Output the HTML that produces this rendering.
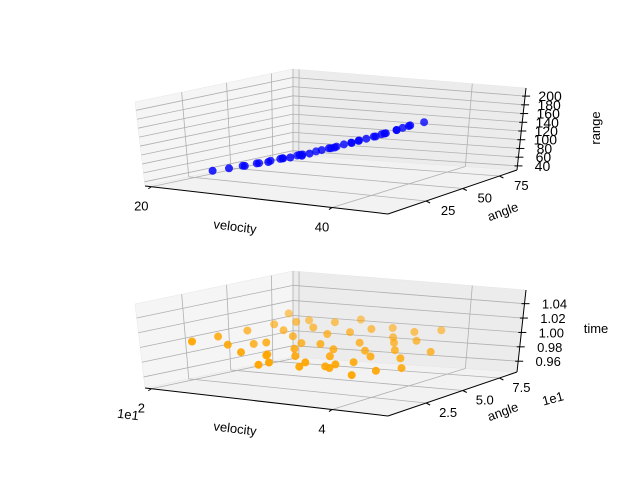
<!DOCTYPE html>
<html><head><meta charset="utf-8">
<style>
html,body{margin:0;padding:0;background:#fff;}
body{position:relative;width:640px;height:480px;overflow:hidden;}
svg{display:block;font-family:"Liberation Sans","DejaVu Sans",sans-serif;}
</style></head>
<body>
<svg id="fig" width="640" height="480" viewBox="0 0 640 480"></svg>
<script>
// ---- data (top panel: range) ----
const topVelocity = [21.5,23,24,25,25.5,26,27,27.5,28,28.5,29,29.5,30,30.5,31,31.5,32,32,33,33.5,34,34.5,35,35.5,36,36.5,37,37.5,38,38.5,39,39.5,40,40.5,41,41.5,42,42.5,43,44];
const topAngle    = [28,30,33,29,35,31,34,30,36,32,31,37,30,33,32,29,35,31,33,36,32,34,30,33,35,32,34,31,33,36,32,34,33,31,35,32,33,34,32,35];
const topRange    = [46,53,58,63,65,69,74,76,80,83,86,88,91,95,98,99,104,103,111,113,118,121,124,129,131,136,140,143,147,150,155,159,163,167,171,175,180,184,189,195];
// ---- data (bottom panel: time) ----
const botVelocity = [21,22,23,24,24.5,25,26,26.5,27,27.5,28,28.5,29,29.5,30,30.5,31,31.5,32,32.5,33,33.5,34,34.5,35,35.5,36,36.5,37,37.5,38,38.5,39,39.5,40,40.5,41,41.5,42,42.5,43,44,30,33,36,27,39,25,35,29];
const botAngle    = [20,30,42,25,50,35,22,45,32,55,27,40,21,47,37,30,52,25,42,35,57,20,45,32,27,50,40,22,55,35,25,47,30,42,52,37,22,45,32,55,27,40,17,19,21,50,18,56,24,16];
const botTime     = [1.000,1.003,1.006,0.997,1.012,0.994,0.991,1.009,1.000,1.018,0.988,1.006,0.991,1.015,1.000,0.997,1.021,0.991,1.012,1.003,1.024,0.988,1.015,1.000,0.994,1.018,1.006,0.988,1.018,1.000,0.991,1.012,0.997,1.009,1.018,1.003,0.985,1.012,0.997,1.021,0.988,1.003,0.985,0.982,0.983,1.018,0.979,1.024,0.982,0.981];
// tick values / labels
const velTicks = [20,40];
const topAngleTicks = [25,50,75];
const topZTicks = [40,60,80,100,120,140,160,180,200];
const botVelLabels = ["2","4"];
const botAngleTicks = [25,50,75];
const botAngleLabels = ["2.5","5.0","7.5"];
const botZTicks = [0.96,0.98,1.00,1.02,1.04];
const botZLabels = ["0.96","0.98","1.00","1.02","1.04"];

const NS = "http://www.w3.org/2000/svg";
const svg = document.getElementById('fig');
function el(tag, attrs, parent){
  const e = document.createElementNS(NS, tag);
  for (const k in attrs) e.setAttribute(k, attrs[k]);
  (parent||svg).appendChild(e);
  return e;
}

function panel(dy, vmin, vmax, amin, amax, zmin, zmax, opt){
  const g = el('g', {});
  
  
  const L=[145,186+dy], F=[388,214+dy], R=[517,170+dy], B=[293,155+dy];
  const vL=[-10,-84], vF=[0,-82], vR=[9,-82], vB=[0,-86];
  function bil(pL,pF,pR,pB,u,w){
    return [pL[0]*(1-u)*(1-w)+pF[0]*u*(1-w)+pR[0]*u*w+pB[0]*(1-u)*w,
            pL[1]*(1-u)*(1-w)+pF[1]*u*(1-w)+pR[1]*u*w+pB[1]*(1-u)*w];
  }
  function P(v,a,z){
    const u=(v-vmin)/(vmax-vmin), w=(a-amin)/(amax-amin), h=(z-zmin)/(zmax-zmin);
    const f=bil(L,F,R,B,u,w), vv=bil(vL,vF,vR,vB,u,w);
    return [f[0]+h*vv[0], f[1]+h*vv[1]];
  }
  const pts = a=>a.map(p=>p[0].toFixed(1)+','+p[1].toFixed(1)).join(' ');
  const floor = el('polygon',{points:pts([P(vmin,amin,zmin),P(vmax,amin,zmin),P(vmax,amax,zmin),P(vmin,amax,zmin)]),fill:'#f2f2f2',stroke:'#e6e6e6','stroke-width':0.5},g);
  
  
  const lp = el('polygon',{points:pts([P(vmin,amin,zmin),P(vmin,amin,zmax),P(vmin,amax,zmax),P(vmin,amax,zmin)]),fill:'#f5f5f5',stroke:'#e6e6e6','stroke-width':0.5},g);
  
  
  const rp = el('polygon',{points:pts([P(vmin,amax,zmin),P(vmin,amax,zmax),P(vmax,amax,zmax),P(vmax,amax,zmin)]),fill:'#ececec',stroke:'#e6e6e6','stroke-width':0.5},g);
  
  
  const gs = {stroke:'#b0b0b0','stroke-width':0.8,fill:'none'};
  function line(a,b,attrs,name){
    const l=el('line',Object.assign({x1:a[0],y1:a[1],x2:b[0],y2:b[1]},attrs),g);
    
    
    return l;
  }
  opt.zTicks.forEach(z=>{
    line(P(vmin,amin,z),P(vmin,amax,z),gs,'z-grid-left');
    line(P(vmin,amax,z),P(vmax,amax,z),gs,'z-grid-back');
  });
  opt.aGrid.forEach(a=>{
    line(P(vmin,a,zmin),P(vmin,a,zmax),gs,'angle-grid-wall');
    line(P(vmin,a,zmin),P(vmax,a,zmin),gs,'angle-grid-floor');
  });
  opt.vGrid.forEach(v=>{
    line(P(v,amax,zmin),P(v,amax,zmax),gs,'velocity-grid-wall');
    line(P(v,amin,zmin),P(v,amax,zmin),gs,'velocity-grid-floor');
  });
  line(P(vmin,amax,zmin),P(vmin,amax,zmax),gs,'back-edge');
  const ax={stroke:'#000','stroke-width':1};
  line(P(vmin,amin,zmin),P(vmax,amin,zmin),ax,'velocity-axis-line');
  line(P(vmax,amin,zmin),P(vmax,amax,zmin),ax,'angle-axis-line');
  line(P(vmax,amax,zmin),P(vmax,amax,zmax),ax,'z-axis-line');
  velTicks.forEach((v,i)=>{
    const p=P(v,amin,zmin);
    line([p[0],p[1]],[p[0]-3,p[1]+2],ax,'velocity-tick');
    const t=el('text',{x:p[0]-10,y:p[1]+24,'font-size':13,'text-anchor':'middle',fill:'#000'},g);
    
    
    t.textContent = opt.vLabels[i];
  });
  opt.aTicks.forEach((a,i)=>{
    const p=P(vmax,a,zmin);
    line([p[0],p[1]],[p[0]+4,p[1]+2],ax,'angle-tick');
    const t=el('text',{x:p[0]+22,y:p[1]+14,'font-size':13,'text-anchor':'middle',fill:'#000'},g);
    
    
    t.textContent = opt.aLabels[i];
  });
  opt.zTicks.forEach((z,i)=>{
    const p=P(vmax,amax,z);
    line([p[0]-3,p[1]],[p[0]+5,p[1]],ax,'z-tick');
    const t=el('text',{x:p[0]+opt.zLabelDx,y:p[1]+5,'font-size':opt.zFont,'text-anchor':'middle',fill:'#000'},g);
    
    
    t.textContent = opt.zLabels[i];
  });
  const order = opt.vel.map((v,i)=>i).sort((i,j)=>opt.ang[j]-opt.ang[i]);
  order.forEach(i=>{
    const p=P(opt.vel[i],opt.ang[i],opt.z[i]);
    const w=(opt.ang[i]-amin)/(amax-amin);
    const c=el('circle',{cx:p[0].toFixed(1),cy:p[1].toFixed(1),r:4,fill:opt.color,'fill-opacity':(1.15-0.9*w).toFixed(2)},g);
    
    
  });
  return g;
}

panel(0, 19.3, 46.2, -1, 87, 30.6, 218.6, {
  name:'range-subplot', color:'#0000ff',
  vel:topVelocity, ang:topAngle, z:topRange,
  zTicks:topZTicks, zLabels:topZTicks.map(String), zLabelDx:25, zFont:14,
  aTicks:topAngleTicks, aLabels:topAngleTicks.map(String), aGrid:topAngleTicks,
  vLabels:velTicks.map(String), vGrid:[20,40]
});
panel(202, 19.3, 46.2, -1, 87, 0.945, 1.059, {
  name:'time-subplot', color:'#ffa500',
  vel:botVelocity, ang:botAngle, z:botTime,
  zTicks:botZTicks, zLabels:botZLabels, zLabelDx:30, zFont:13,
  aTicks:botAngleTicks, aLabels:botAngleLabels, aGrid:botAngleTicks,
  vLabels:botVelLabels, vGrid:[20,40]
});
</script>
<svg width="640" height="480" style="position:absolute;left:0;top:0">
  <g font-family="Liberation Sans, DejaVu Sans, sans-serif" font-size="13" fill="#000">
    <text x="235" y="231" text-anchor="middle" transform="rotate(7 235 227)">velocity</text>
    <text x="503" y="216" text-anchor="middle" transform="rotate(-20 503 212)">angle</text>
    <text x="600" y="128" text-anchor="middle" transform="rotate(-90 600 128)">range</text>
    <text x="235" y="433" text-anchor="middle" transform="rotate(7 235 429)">velocity</text>
    <text x="503" y="416" text-anchor="middle" transform="rotate(-20 503 412)">angle</text>
    <text x="596" y="333" text-anchor="middle">time</text>
    <text x="128" y="419" text-anchor="middle" transform="rotate(7 128 415)">1e1</text>
    <text x="553" y="403" text-anchor="middle" transform="rotate(-15 553 399)">1e1</text>
  </g>
</svg>
</body></html>
